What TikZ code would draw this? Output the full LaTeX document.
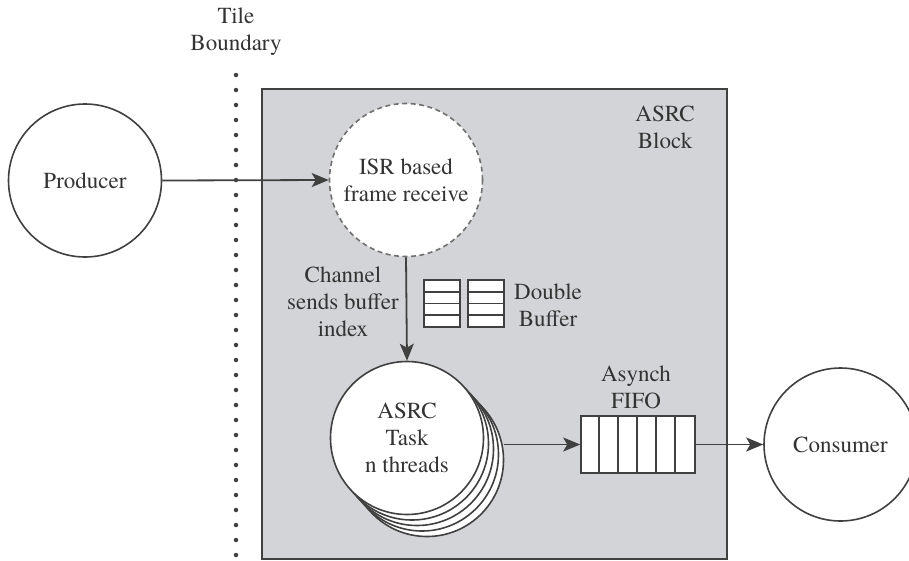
\documentclass[tikz,border=0pt]{standalone}
\usepackage{fontspec}
\IfFontExistsTF{texgyretermes-regular.otf}
  {\newfontfamily\figfont{texgyretermes-regular.otf}}
  {\newfontfamily\figfont{Liberation Serif}}
\usetikzlibrary{arrows.meta}
\definecolor{blockfill}{HTML}{D3D4D7}
\definecolor{linecol}{HTML}{404040}
\definecolor{textcol}{HTML}{333333}
\tikzset{
  every node/.style={text=textcol, font=\figfont\fontsize{23}{27}\selectfont},
  bubble/.style={circle, draw=linecol, line width=1.6pt, fill=white, minimum size=153pt, inner sep=0pt, align=center},
  isrbubble/.style={bubble, draw=linecol!75, dash pattern=on 5pt off 3.5pt},
  lbl/.style={align=center, inner sep=0pt},
  conn/.style={draw=linecol, line width=1.8pt, -{Stealth[length=17pt, width=14pt, inset=4pt]}},
  cellbox/.style={draw=linecol, line width=1.6pt, fill=white},
}
\begin{document}
\begin{tikzpicture}[x=1pt, y=-1pt]
\useasboundingbox (0,0) rectangle (909,560);
\begin{scope}
\clip (0,0) rectangle (909,560);
% ASRC block
\draw[draw=linecol, line width=2.2pt, fill=blockfill] (262,89) rectangle (727,559);
% tile boundary dotted line
\draw[draw=linecol, line width=4.5pt, line cap=round, dash pattern=on 0pt off 15pt] (236,75) -- (236,562);
\node[lbl] (tile) at (236,32) {Tile\\Boundary};
\node[lbl] (blk) at (665,127) {ASRC\\Block};

% Producer / Consumer
\node[bubble] (prod) at (85,180.5) {Producer};
\node[bubble] (cons) at (840.5,444.5) {Consumer};

% ISR
\node[isrbubble] (isr) at (406,180) {ISR based\\frame receive};

% stacked task circles
\node[bubble] (t4) at (427,460) {};
\node[bubble] (t3) at (422,454.5) {};
\node[bubble] (t2) at (417,449) {};
\node[bubble] (t1) at (412,443.5) {};
\node[bubble] (task) at (407,438) {ASRC\\Task\\n threads};

% labels
\node[lbl] (chan) at (343,302) {Channel\\sends buffer\\index};
\node[lbl] (dbl) at (548,305) {Double\\Buffer};
\node[lbl] (afifo) at (636,387) {Asynch\\FIFO};

% double buffer icons
\foreach \x in {424,468} {
  \draw[cellbox] (\x,280) rectangle ++(36,47);
  \foreach \k in {1,2,3} \draw[draw=linecol, line width=1.6pt] (\x,280+\k*11.75) -- ++(36,0);
}

% FIFO
\node[cellbox, rectangle, minimum width=114pt, minimum height=57pt, inner sep=0pt] (fifo) at (638,444.5) {};
\foreach \k in {1,...,5} \draw[draw=linecol, line width=1.6pt] ([xshift=\k*19pt]fifo.north west) -- ([xshift=\k*19pt]fifo.south west);

% connectors
\draw[conn] (prod.east) -- (isr.west);
\draw[conn] (isr.south) -- (task.north);
\draw[conn] (fifo.west -| t4.east) -- (fifo.west);
\draw[conn] (fifo.east) -- (cons.west);
\end{scope}
\end{tikzpicture}
\end{document}
